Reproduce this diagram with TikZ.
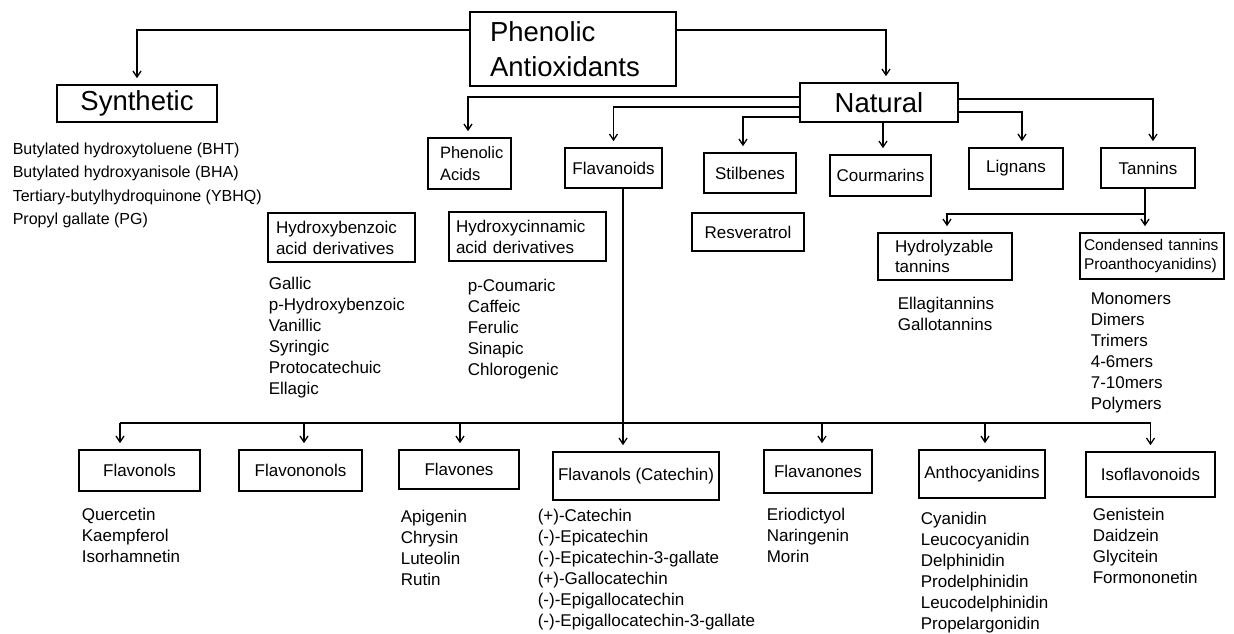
\documentclass[tikz,border=0pt]{standalone}
\usepackage{fontspec}
\setmainfont{Liberation Sans}
\usetikzlibrary{arrows.meta,calc}
\begin{document}
\begin{tikzpicture}[x=1pt,y=-1pt,
  line width=1.6pt,
  bx/.style={draw, line width=1.6pt, inner sep=0pt, font=\fontsize{17}{21}\selectfont},
  big/.style={draw, line width=1.6pt, inner sep=0pt, font=\fontsize{27.5}{35}\selectfont},
  lst/.style={anchor=north west, inner sep=0pt, align=left, font=\fontsize{17}{21}\selectfont},
  arr/.style={-{Straight Barb[length=6pt,width=8pt,line width=1.3pt]}, shorten >=6pt},
  ln/.style={line width=1.6pt}
]
\fill[white] (0,0) rectangle (1234,633);
\useasboundingbox (0,0) rectangle (1234,633);

% top level
\node[big, minimum width=206pt, minimum height=74pt, align=left, text width=166pt] (pa) at (573,49) {Phenolic\\Antioxidants};
\node[big, minimum width=160pt, minimum height=37pt] (syn) at (137,103.5) {Synthetic};
\node[big, minimum width=158pt, minimum height=39pt] (nat) at (879,102.5) {Natural};

\node[lst, font=\fontsize{16}{23.5}\selectfont] (synl) at (12,142) {Butylated hydroxytoluene (BHT)\\Butylated hydroxyanisole (BHA)\\Tertiary-butylhydroquinone (YBHQ)\\Propyl gallate (PG)};

% second level
\node[bx, font=\fontsize{16.5}{22}\selectfont, minimum width=83pt, minimum height=51pt, align=left, text width=59pt] (pac) at (469.5,163.5) {Phenolic\\Acids};
\node[bx, minimum width=97pt, minimum height=40pt] (flv) at (613.5,168) {Flavanoids};
\node[bx, minimum width=92pt, minimum height=40pt] (stb) at (750,173) {Stilbenes};
\node[bx, minimum width=101pt, minimum height=41pt] (cou) at (880.5,175.5) {Courmarins};
\node[bx, minimum width=94pt, minimum height=41pt] (lig) at (1016,168.5) {Lignans};
\node[bx, minimum width=94pt, minimum height=40pt] (tan) at (1148,168) {Tannins};

\node[bx, minimum width=112pt, minimum height=38pt] (res) at (748,232) {Resveratrol};

\node[bx, minimum width=147pt, minimum height=49pt, align=left, text width=131pt] (hb) at (341.5,237.5) {Hydroxybenzoic\\acid derivatives};
\node[bx, minimum width=157pt, minimum height=49pt, align=left, text width=143pt] (hc) at (527.5,236.5) {Hydroxycinnamic\\acid derivatives};

\node[lst] (hbl) at (268,276.5) {Gallic\\p-Hydroxybenzoic\\Vanillic\\Syringic\\Protocatechuic\\Ellagic};
\node[lst] (hcl) at (467,278.5) {p-Coumaric\\Caffeic\\Ferulic\\Sinapic\\Chlorogenic};

\node[bx, font=\fontsize{17}{20}\selectfont, minimum width=134pt, minimum height=47pt, align=left, text width=100pt] (hyd) at (945,256.5) {Hydrolyzable\\tannins};
\node[bx, font=\fontsize{15.5}{18.5}\selectfont, minimum width=144pt, minimum height=46pt, align=left, text width=136pt] (con) at (1152,256) {Condensed tannins\\Proanthocyanidins)};

\node[lst] (hydl) at (897,296.5) {Ellagitannins\\Gallotannins};
\node[lst] (conl) at (1090,291.5) {Monomers\\Dimers\\Trimers\\4-6mers\\7-10mers\\Polymers};

% bottom level
\node[bx, minimum width=121pt, minimum height=41pt] (fol) at (139.5,470.5) {Flavonols};
\node[bx, minimum width=123pt, minimum height=41pt] (fnn) at (300.5,470.5) {Flavononols};
\node[bx, minimum width=120pt, minimum height=39pt] (fne) at (459,469.5) {Flavones};
\node[bx, minimum width=166pt, minimum height=48pt] (fca) at (636,476) {Flavanols (Catechin)};
\node[bx, minimum width=108pt, minimum height=43pt] (fan) at (818,471.5) {Flavanones};
\node[bx, minimum width=126pt, minimum height=48pt] (ant) at (982,474) {Anthocyanidins};
\node[bx, minimum width=129pt, minimum height=45pt] (iso) at (1150.5,474.5) {Isoflavonoids};

\node[lst] (foll) at (81,507.5) {Quercetin\\Kaempferol\\Isorhamnetin};
\node[lst] (fnel) at (400,509.5) {Apigenin\\Chrysin\\Luteolin\\Rutin};
\node[lst] (fcal) at (537,508.5) {(+)-Catechin\\(-)-Epicatechin\\(-)-Epicatechin-3-gallate\\(+)-Gallocatechin\\(-)-Epigallocatechin\\(-)-Epigallocatechin-3-gallate};
\node[lst] (fanl) at (766,507.5) {Eriodictyol\\Naringenin\\Morin};
\node[lst] (antl) at (920,511.5) {Cyanidin\\Leucocyanidin\\Delphinidin\\Prodelphinidin\\Leucodelphinidin\\Propelargonidin};
\node[lst] (isol) at (1092,507.5) {Genistein\\Daidzein\\Glycitein\\Formononetin};

% connectors: top
\draw[arr] ([yshift=-19pt]pa.north west) -| (syn.north);
\draw[arr] ([yshift=-19pt]pa.north east) -| ([xshift=7pt]nat.north);

% Natural to children
\draw[arr] ([yshift=-15pt]nat.north west) -| ([xshift=-1.5pt]pac.north);
\draw[arr] ([yshift=-25pt]nat.north west) -| (flv.north);
\draw[arr] ([yshift=-35pt]nat.north west) -| ([xshift=-7pt]stb.north);
\draw[arr] ([xshift=4pt]nat.south) -- ([xshift=4pt]nat.south |- cou.north);
\draw[arr] ([yshift=-29.5pt]nat.north east) -| ([xshift=6pt]lig.north);
\draw[arr] ([yshift=-16.5pt]nat.north east) -| ([xshift=5pt]tan.north);

% Tannins
\coordinate (tj) at ($([xshift=-3pt]tan.south)+(0,25)$);
\draw[arr] ([xshift=-3pt]tan.south) -- ([xshift=-3pt]tan.south |- con.north);
\draw[arr] (tj) -| ([xshift=2pt]hyd.north);

% Flavanoids to bottom
\coordinate (bar) at (0,423);
\draw[arr] ([xshift=9.5pt]flv.south) -- ([xshift=9.5pt]flv.south |- fca.north);
\draw[ln] ([xshift=-19.5pt]fol.north |- bar) -- (iso.north |- bar);
\draw[arr] ([xshift=-19.5pt]fol.north |- bar) -- ([xshift=-19.5pt]fol.north);
\draw[arr] ([xshift=3.5pt]fnn.north |- bar) -- ([xshift=3.5pt]fnn.north);
\draw[arr] ([xshift=1pt]fne.north |- bar) -- ([xshift=1pt]fne.north);
\draw[arr] ([xshift=4pt]fan.north |- bar) -- ([xshift=4pt]fan.north);
\draw[arr] ([xshift=3pt]ant.north |- bar) -- ([xshift=3pt]ant.north);
\draw[arr] (iso.north |- bar) -- (iso.north);
\end{tikzpicture}
\end{document}
